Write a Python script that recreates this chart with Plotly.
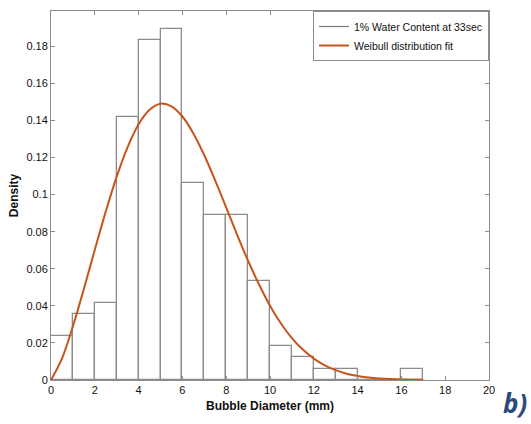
import plotly.graph_objects as go

# Histogram (bin width 1 mm, bins 0-1 ... 16-17)
bin_left = [0, 1, 2, 3, 4, 5, 6, 7, 8, 9, 10, 11, 12, 13, 14, 15, 16]
density = [0.0239, 0.0356, 0.0415, 0.1421, 0.1834, 0.1892, 0.1065, 0.0889, 0.0889,
           0.0535, 0.0181, 0.0122, 0.0061, 0.0061, 0.0, 0.0, 0.0061]

# Weibull fit curve
fit_x = [0, 0.5, 1, 1.5, 2, 2.5, 3, 3.5, 4, 4.5, 5, 5.5, 6, 6.5, 7, 7.5, 8, 8.5, 9,
         9.5, 10, 10.5, 11, 11.5, 12, 12.5, 13, 13.5, 14, 14.5, 15, 15.5, 16, 16.5, 17]
fit_y = [0.0, 0.0115, 0.0290, 0.0491, 0.0702, 0.0908, 0.1097, 0.1256, 0.1379, 0.1457,
         0.1490, 0.1476, 0.1421, 0.1330, 0.1212, 0.1075, 0.0930, 0.0783, 0.0643, 0.0515,
         0.0401, 0.0305, 0.0226, 0.0164, 0.0115, 0.0079, 0.0053, 0.0034, 0.0022, 0.0013,
         0.0008, 0.0005, 0.0003, 0.00015, 0.0001]

hist_name = "1% Water Content at 33sec"
fit_name = "Weibull distribution fit"
x_ticks = [0, 2, 4, 6, 8, 10, 12, 14, 16, 18, 20]
y_ticks = [0, 0.02, 0.04, 0.06, 0.08, 0.1, 0.12, 0.14, 0.16, 0.18]

edge = "#8c8c8c"
orange = "#c4561c"
font = "Liberation Sans, Arial, sans-serif"

fig = go.Figure()
fig.add_trace(go.Bar(
    x=[b + 0.5 for b in bin_left], y=density, width=1,
    marker=dict(color="white", line=dict(color=edge, width=1.3)),
    showlegend=False, name=hist_name,
))
# legend entry for histogram drawn as a line (MATLAB style)
fig.add_trace(go.Scatter(x=[None], y=[None], mode="lines",
                         line=dict(color="#777777", width=1.2), name=hist_name))
fig.add_trace(go.Scatter(x=fit_x, y=fit_y, mode="lines", line_shape="spline",
                         line=dict(color=orange, width=2), name=fit_name))

axis_common = dict(showline=True, linecolor=edge, linewidth=1, mirror="ticks",
                   ticks="inside", ticklen=4, tickcolor=edge, showgrid=False,
                   zeroline=False, tickfont=dict(family=font, size=11, color="#111"))
fig.update_xaxes(range=[0, 20], tickvals=x_ticks,
                 title=dict(text="<b>Bubble Diameter (mm)</b>", standoff=6,
                            font=dict(family=font, size=12, color="#111")),
                 **axis_common)
fig.update_yaxes(range=[0, 0.199], tickvals=y_ticks,
                 title=dict(text="<b>Density</b>", standoff=5,
                            font=dict(family=font, size=12, color="#111")),
                 **axis_common)

fig.update_layout(
    width=531, height=424,
    margin=dict(l=51, r=42, t=11, b=44),
    plot_bgcolor="white", paper_bgcolor="white",
    bargap=0,
    legend=dict(x=1, y=1, xanchor="right", yanchor="top",
                bgcolor="white", bordercolor=edge, borderwidth=1,
                font=dict(family=font, size=10.5, color="#111"),
                tracegroupgap=0, itemwidth=30),
    annotations=[dict(text="<b><i>b)</i></b>", xref="paper", yref="paper",
                      x=1.0, y=-0.062, xanchor="left", yanchor="middle",
                      xshift=12, showarrow=False,
                      font=dict(family="Open Sans, sans-serif", size=26, color="#2a4a7b"))],
)

fig.write_html("out.html")
